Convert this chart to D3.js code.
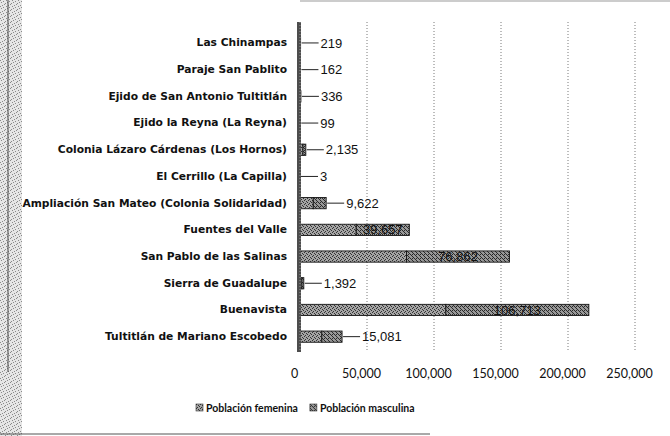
<!DOCTYPE html>
<html>
<head>
<meta charset="utf-8">
<script src="https://cdn.jsdelivr.net/npm/d3@7"></script>
<style>
  body { margin: 0; background: #fff; }
  svg { display: block; }
</style>
</head>
<body>
<script>
// Localidades de Tultitlán: población por sexo
const categories = [
  "Las Chinampas",
  "Paraje San Pablito",
  "Ejido de San Antonio Tultitlán",
  "Ejido la Reyna (La Reyna)",
  "Colonia Lázaro Cárdenas (Los Hornos)",
  "El Cerrillo (La Capilla)",
  "Ampliación San Mateo (Colonia Solidaridad)",
  "Fuentes del Valle",
  "San Pablo de las Salinas",
  "Sierra de Guadalupe",
  "Buenavista",
  "Tultitlán de Mariano Escobedo"
];
const femenina  = [226, 158, 341, 104, 2210, 4, 9900, 41950, 79500, 1450, 108850, 16300];
const masculina = [219, 162, 336, 99, 2135, 3, 9622, 39657, 76862, 1392, 106713, 15081];
const xTicks = [0, 50000, 100000, 150000, 200000, 250000];
const seriesNames = ["Población femenina", "Población masculina"];

const W = 670, H = 436;
const svg = d3.select("body").append("svg").attr("width", W).attr("height", H);

// grey stipple fills for the bars and the scanned page edge
const defs = svg.append("defs");
function stipple(id, base, dark, pts, size) {
  const p = defs.append("pattern").attr("id", id).attr("patternUnits", "userSpaceOnUse")
    .attr("width", size).attr("height", size);
  p.append("rect").attr("width", size).attr("height", size).attr("fill", base);
  pts.forEach(([a, b]) => p.append("rect").attr("x", a).attr("y", b).attr("width", 1).attr("height", 1).attr("fill", dark));
}
stipple("pFem", "#a4a4a4", "#333", [[0,0],[2,1],[1,3],[3,2]], 4);
stipple("pMas", "#989898", "#2a2a2a", [[0,0],[1,1],[2,2],[3,3],[0,2]], 4);
stipple("pEdge", "#e6e6e6", "#8a8a8a", [[0,0],[3,1],[1,2],[4,4],[2,5],[5,3]], 6);

// page edge
svg.append("rect").attr("x", 0).attr("y", 0).attr("width", 22).attr("height", H).attr("fill", "url(#pEdge)");
svg.append("line").attr("x1", 8).attr("x2", 8).attr("y1", 0).attr("y2", 372).attr("stroke", "#444").attr("stroke-width", 1);
svg.append("line").attr("x1", 0).attr("x2", 430).attr("y1", 434).attr("y2", 434).attr("stroke", "#555").attr("stroke-width", 1.2);
svg.append("line").attr("x1", 300).attr("x2", W).attr("y1", 1).attr("y2", 1).attr("stroke", "#999").attr("stroke-width", 1);

const rows = categories.map((c, i) => ({ cat: c, fem: femenina[i], mas: masculina[i] }));
const stacked = d3.stack().keys(["fem", "mas"])(rows);

const x = d3.scaleLinear().domain([0, 250000]).range([300, 635]);
const y = d3.scaleBand().domain(categories).range([29.6, 350]).padding(0);
const barH = y.bandwidth() * 0.42;
const plotTop = 22, plotBottom = 352;

// vertical gridlines
svg.append("g").selectAll("line").data(xTicks.filter(d => d > 0)).join("line")
  .attr("x1", d => x(d)).attr("x2", d => x(d))
  .attr("y1", plotTop).attr("y2", plotBottom)
  .attr("stroke", "#7a7a7a").attr("stroke-width", 1).attr("stroke-dasharray", "1,2");

// x axis labels
const xAxis = svg.append("g").attr("transform", `translate(0,366)`)
  .call(d3.axisBottom(x).tickValues(xTicks).tickSize(0).tickPadding(3).tickFormat(d3.format(",")));
xAxis.select(".domain").remove();
xAxis.selectAll("text").attr("dx", -6)
  .attr("font-family", "Lato, 'Open Sans', sans-serif").attr("font-size", 12.5).attr("fill", "#111");

// bars
const fills = ["url(#pFem)", "url(#pMas)"];
svg.append("g").selectAll("g").data(stacked).join("g")
  .attr("fill", (d, i) => fills[i])
  .selectAll("rect").data(d => d).join("rect")
  .attr("x", d => x(d[0]))
  .attr("y", d => y(d.data.cat) + (y.bandwidth() - barH) / 2)
  .attr("width", d => Math.max(0, x(d[1]) - x(d[0])))
  .attr("height", barH)
  .attr("stroke", "#151515").attr("stroke-width", 0.9);

// category axis
const yAxis = svg.append("g").attr("transform", "translate(300,0)")
  .call(d3.axisLeft(y).tickSize(0).tickPadding(13));
yAxis.select(".domain").remove();
yAxis.selectAll("text")
  .attr("font-family", "'DejaVu Sans', sans-serif").attr("font-weight", 700)
  .attr("font-size", 10.7).attr("fill", "#111");
svg.append("line").attr("x1", 299).attr("x2", 299).attr("y1", plotTop).attr("y2", plotBottom)
  .attr("stroke", "#4d4d4d").attr("stroke-width", 4);
svg.append("line").attr("x1", 300).attr("x2", 300).attr("y1", plotTop).attr("y2", plotBottom)
  .attr("stroke", "#9a9a9a").attr("stroke-width", 1).attr("stroke-dasharray", "1,2");

// value labels for the masculina segments
const fmt = d3.format(",");
const lab = svg.append("g").attr("font-family", "'Liberation Sans', Arial, sans-serif")
  .attr("font-size", 13).attr("fill", "#111");
stacked[1].forEach(d => {
  const cy = y(d.data.cat) + y.bandwidth() / 2;
  const x0 = x(d[0]), x1 = x(d[1]);
  const t = lab.append("text").text(fmt(d.data.mas)).attr("dy", "0.35em");
  const tw = t.node().getComputedTextLength();
  if (x1 - x0 > tw + 6) {
    t.attr("x", (x0 + x1) / 2).attr("y", cy).attr("text-anchor", "middle");
  } else {
    const lx = x1 + 20;
    t.attr("x", lx).attr("y", cy);
    lab.append("line").attr("x1", x1 + 1).attr("x2", lx - 2).attr("y1", cy).attr("y2", cy)
      .attr("stroke", "#222").attr("stroke-width", 1);
  }
});

// legend
const legend = svg.append("g").attr("transform", "translate(196,408)")
  .attr("font-family", "Lato, 'Open Sans', sans-serif").attr("font-weight", 700).attr("font-size", 10.5);
let lxPos = 0;
seriesNames.forEach((name, i) => {
  const g = legend.append("g").attr("transform", `translate(${lxPos},0)`);
  g.append("rect").attr("x", 0).attr("y", -4).attr("width", 7).attr("height", 7)
    .attr("fill", fills[i]).attr("stroke", "#333").attr("stroke-width", 0.6);
  const t = g.append("text").attr("x", 10).attr("dy", "0.35em").attr("fill", "#111").text(name);
  lxPos += 10 + t.node().getComputedTextLength() + 12;
});
</script>
</body>
</html>
